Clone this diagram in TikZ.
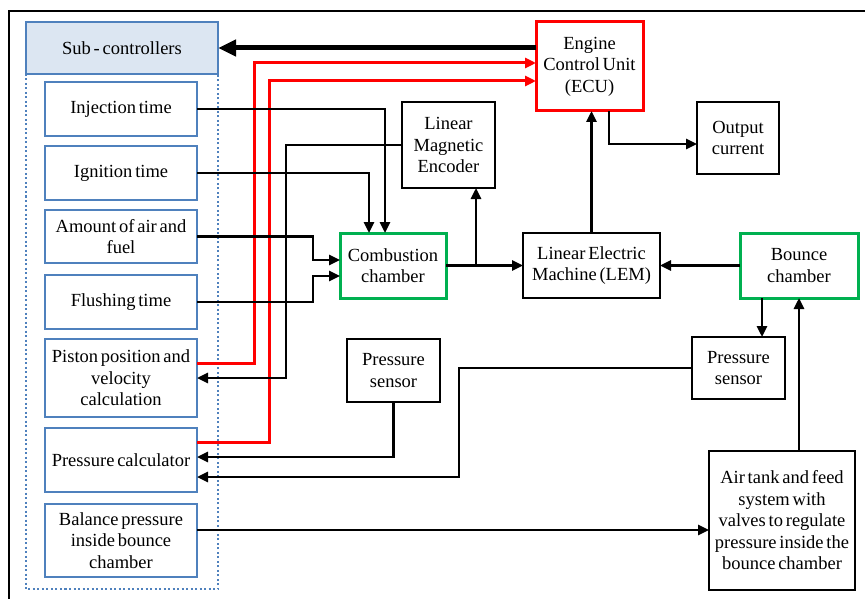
\documentclass[tikz,border=0pt]{standalone}
\usepackage{fontspec}
\setmainfont{DejaVu Serif}
\usetikzlibrary{arrows.meta,calc}
\definecolor{bblue}{RGB}{79,129,189}
\definecolor{bfill}{RGB}{220,230,242}
\definecolor{ggreen}{RGB}{0,176,80}
\newfontfamily\libserif{Liberation Serif}
\newcommand\mynodefont{\libserif\fontsize{18.5}{21.5}\selectfont\spaceskip=2.8pt plus 1pt minus 0.5pt\relax}
\begin{document}
\begin{tikzpicture}[x=1pt,y=-1pt,
 every node/.style={font=\mynodefont, align=center, inner sep=0pt, outer sep=0pt},
 bbox/.style={draw, line width=2pt},
 subbox/.style={draw=bblue, line width=2pt, minimum width=152pt},
 gbox/.style={draw=ggreen, line width=3pt},
 rbox/.style={draw=red, line width=3pt},
 conn/.style={line width=2.6pt, -{Triangle[length=11pt,width=10pt]}},
 redc/.style={draw=red, line width=3pt, -{Triangle[length=11pt,width=10pt]}},
]
\useasboundingbox (0,0) rectangle (865,599);
\fill[white] (0,0) rectangle (865,599);
\draw[line width=2pt] (9,599) -- (9,11) -- (865,11);

% container
\draw[bblue, line width=2pt, dash pattern=on 2pt off 2.5pt] (26,74) -- (26,589) -- (218,589) -- (218,74);
\node[draw=bblue, fill=bfill, line width=2pt, minimum width=192pt, minimum height=52pt] (sub) at (122,48) {Sub - controllers};

\node[subbox, minimum height=54pt] (inj) at (121,109) {Injection time};
\node[subbox, minimum height=54pt] (ign) at (121,173) {Ignition time};
\node[subbox, minimum height=53pt] (amt) at (121,236.5) {Amount of air and\\fuel};
\node[subbox, minimum height=54pt] (flush) at (121,302) {Flushing time};
\node[subbox, minimum height=78pt] (piston) at (121,378) {Piston position and\\velocity\\calculation};
\node[subbox, minimum height=64pt] (pcalc) at (121,460) {Pressure calculator};
\node[subbox, minimum height=73pt] (bal) at (121,540.5) {Balance pressure\\inside bounce\\chamber};

\node[rbox, minimum width=107pt, minimum height=89pt] (ecu) at (589.5,66.5) {Engine\\Control Unit\\(ECU)};
\node[bbox, minimum width=93pt, minimum height=86pt] (enc) at (448.5,145) {Linear\\Magnetic\\Encoder};
\node[bbox, minimum width=82pt, minimum height=72pt] (out) at (738,138) {Output\\current};
\node[gbox, minimum width=106pt, minimum height=65pt] (comb) at (393,265.5) {Combustion\\chamber};
\node[bbox, minimum width=137pt, minimum height=65pt] (lem) at (591.5,265.5) {Linear Electric\\Machine (LEM)};
\node[gbox, minimum width=118pt, minimum height=65pt] (bounce) at (799,265.5) {Bounce\\chamber};
\node[bbox, minimum width=93pt, minimum height=63pt] (psL) at (393.5,370.5) {Pressure\\sensor};
\node[bbox, minimum width=93pt, minimum height=62pt] (psR) at (738.5,368) {Pressure\\sensor};
\node[bbox, minimum width=146pt, minimum height=139pt] (air) at (782,520.5) {Air tank and feed\\system with\\valves to regulate\\pressure inside the\\bounce chamber};

% thick arrow
\draw[line width=5pt, -{Triangle[length=18pt,width=16pt]}] ([yshift=18.5pt]ecu.west) -- (sub.east);
% red
\draw[redc] ([yshift=15pt]piston.east) -- ++(57,0) |- ([yshift=3.5pt]ecu.west);
\draw[redc] ([yshift=18pt]pcalc.east) -- ++(72,0) |- ([yshift=-14.5pt]ecu.west);
% inputs to combustion
\draw[conn] (inj.east) -| ([xshift=-8pt]comb.north);
\draw[conn] (ign.east) -| ([xshift=-24pt]comb.north);
\draw[conn] (amt.east) -- ++(116,0) |- ([yshift=5.5pt]comb.west);
\draw[conn] (flush.east) -- ++(116,0) |- ([yshift=-10.5pt]comb.west);
% encoder to piston
\draw[conn] (enc.west) -- ++(-116,0) |- (piston.east);
% combustion to LEM
\draw[conn] (comb.east) -- (lem.west);
\coordinate (br) at ([xshift=27.5pt]enc.south);
\draw[conn] (br |- comb.east) -- (br);
\draw[conn] (lem.north) -- (lem.north |- ecu.south);
\draw[conn] ([xshift=19.5pt]ecu.south) |- ([yshift=-6pt]out.west);
\draw[conn] (bounce.west) -- (lem.east);
\coordinate (bb) at ([xshift=-37pt]bounce.south);
\draw[conn] (bb) -- (bb |- psR.north);
\draw[conn] (psR.west) -- ++(-233,0) |- ([yshift=-17pt]pcalc.east);
\draw[conn] (psL.south) |- ([yshift=3pt]pcalc.east);
\coordinate (ba) at ([yshift=10.5pt]bal.east);
\draw[conn] (ba) -- (ba -| air.west);
\draw[conn] (bounce.south |- air.north) -- (bounce.south);
\end{tikzpicture}
\end{document}
